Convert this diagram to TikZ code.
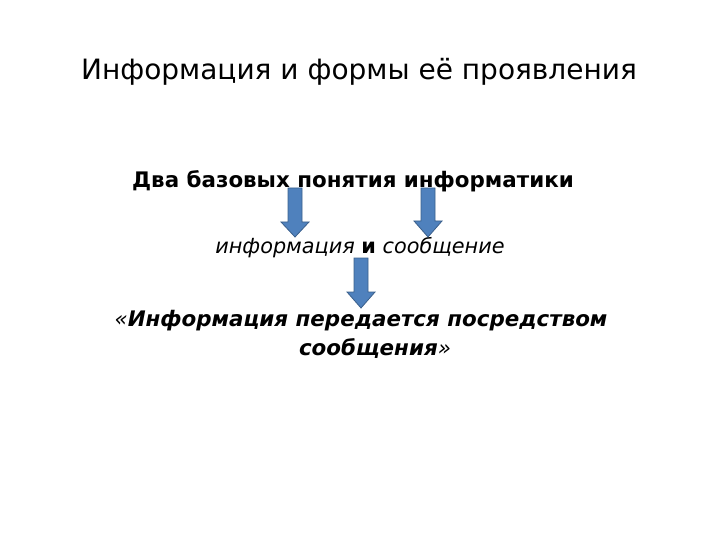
\documentclass[tikz,border=0pt]{standalone}
\usepackage{fontspec}
\setmainfont{DejaVu Sans}
\definecolor{arrfill}{HTML}{4F81BD}
\definecolor{arrdraw}{HTML}{3A5F8B}
\begin{document}
\begin{tikzpicture}[x=1pt,y=-1pt,
  txt/.style={anchor=base,inner sep=0pt,text=black},
  darrow/.style={fill=arrfill,draw=arrdraw,line width=0.8pt,line join=miter}]
\useasboundingbox (0,0) rectangle (720,540);
\node[txt,font=\fontsize{28}{34}\selectfont] (title) at (359,80) {Информация и формы её проявления};
\node[txt,font=\fontsize{21.4}{26}\selectfont\bfseries] (l2) at (353,188) {Два базовых понятия информатики};
\node[txt,font=\fontsize{20.8}{25}\selectfont] (l3) at (360,254) {\textit{информация} \textbf{и} \textit{сообщение}};
\node[txt,font=\fontsize{21.4}{26}\selectfont\bfseries\itshape] (l4) at (361,326) {{\mdseries«}Информация передается посредством};
\node[txt,font=\fontsize{21.4}{26}\selectfont\bfseries\itshape] (l5) at (375,355) {сообщения{\mdseries»}};
% arrows
\foreach \n/\cx/\ty/\hy/\by in {a1/295/188/222/237, a2/428/188/221/237, a3/361/258/292/308}{
  \draw[darrow] (\cx-7,\ty) -- (\cx+7,\ty) -- (\cx+7,\hy) -- (\cx+14,\hy) -- (\cx,\by) -- (\cx-14,\hy) -- (\cx-7,\hy) -- cycle;
}
\end{tikzpicture}
\end{document}
